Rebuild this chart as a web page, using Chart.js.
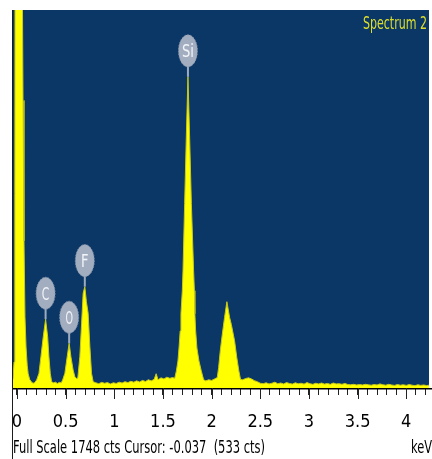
<!DOCTYPE html>
<html><head><meta charset="utf-8">
<script src="https://cdn.jsdelivr.net/npm/chart.js@4.4.1/dist/chart.umd.min.js"></script>
<style>html,body{margin:0;padding:0;background:#fff;overflow:hidden}#wrap{position:relative;width:432px;height:459px}</style>
</head><body><div id="wrap"><canvas id="c" width="432" height="459"></canvas></div>
<script>
// Spectrum data (energy in keV, counts)
const energies = [
-0.041,-0.03,-0.022,-0.018,0.000,0.050,0.056,0.062,0.072,0.082,0.093,0.105,0.115,0.130,0.150,0.165,0.180,
0.202,0.226,0.246,0.270,0.294,0.315,0.328,0.342,0.356,0.375,0.395,0.415,0.435,0.455,
0.469,0.492,0.516,0.536,0.554,0.577,0.595,0.612,0.625,
0.646,0.664,0.680,0.697,0.713,0.731,0.749,0.766,0.783,
0.81,0.84,0.87,0.90,0.93,0.96,0.99,1.02,1.05,1.08,1.11,1.14,1.17,1.20,1.23,1.26,1.29,1.32,1.35,1.38,1.41,1.43,1.45,1.48,1.51,1.54,1.57,1.60,
1.621,1.638,1.654,1.665,1.677,1.685,1.699,1.706,1.723,1.740,1.757,1.774,1.792,1.815,1.823,1.828,1.836,1.849,1.870,1.894,1.918,
1.94,1.97,2.00,2.03,
2.058,2.072,2.089,2.110,2.133,2.157,2.185,2.202,2.236,2.259,2.280,2.297,
2.32,2.35,2.38,2.41,2.44,2.47,2.50,2.53,2.56,2.59,2.62,2.65,2.68,2.71,2.74,2.77,2.80,2.83,2.86,2.89,2.92,2.95,2.98,
3.01,3.04,3.07,3.10,3.13,3.16,3.19,3.22,3.25,3.28,3.31,3.34,3.37,3.40,3.43,3.46,3.49,3.52,3.55,3.58,3.61,3.64,3.67,3.70,
3.73,3.76,3.79,3.82,3.85,3.88,3.91,3.94,3.97,4.00,4.03,4.06,4.09,4.12,4.15,4.18,4.21,4.234
];
const counts = [
40,120,900,3000,9000,2600,1800,1330,680,330,190,105,66,40,27,22,24,
37,68,145,237,318,237,145,68,29,24,27,21,26,24,
37,68,145,207,145,83,52,44,46,
145,299,438,469,400,346,192,68,29,
24,20,26,22,25,19,24,21,27,23,29,25,31,27,33,28,35,30,38,33,40,66,38,47,42,50,45,48,
45,79,125,185,264,343,450,542,853,1160,1439,1160,853,542,450,343,264,185,125,79,38,
33,38,35,42,
48,94,172,249,326,399,326,295,218,140,79,40,
38,44,47,42,34,29,22,20,24,19,22,27,20,23,19,25,21,18,24,20,22,18,25,
20,17,22,19,23,18,21,17,23,19,20,17,21,16,15,17,14,16,14,17,15,13,16,14,
19,15,13,17,14,12,16,13,15,12,16,13,11,15,12,14,11,13
];
const majorTicks = [0,0.5,1,1.5,2,2.5,3,3.5,4];
const peakLabels = ['C','O','F','Si'];
const peakEnergies = [0.294,0.536,0.697,1.757];
const peakCounts = [318,207,469,1439];
const spectrumName = 'Spectrum 2';
const footerText = 'Full Scale 1748 cts Cursor: -0.037  (533 cts)';
const unitLabel = 'keV';
const fullScale = 1748;
const xMin = -0.041, xMax = 4.234;

const points = energies.map((e,i)=>({x:e,y:counts[i]}));
const NARROW = '"Liberation Sans Narrow","Arial Narrow","DejaVu Sans Condensed","Liberation Sans",sans-serif';

function fitText(ctx, text, x, y, width, font, color){
  ctx.save();
  ctx.font = font;
  ctx.fillStyle = color;
  ctx.textBaseline = 'alphabetic';
  ctx.textAlign = 'left';
  const w = ctx.measureText(text).width;
  ctx.translate(x, y);
  ctx.scale(width / w, 1);
  ctx.fillText(text, 0, 0);
  ctx.restore();
}

const edsPlugin = {
  id: 'eds',
  beforeDatasetsDraw(chart){
    const {ctx, chartArea:a} = chart;
    ctx.save();
    ctx.fillStyle = '#0b3767';
    ctx.fillRect(a.left, a.top, a.right - a.left, a.bottom - a.top);
    ctx.restore();
  },
  afterDatasetsDraw(chart){
    const {ctx} = chart;
    const xs = chart.scales.x, ys = chart.scales.y;
    ctx.save();
    peakLabels.forEach((lab,i)=>{
      const px = xs.getPixelForValue(peakEnergies[i]);
      const py = ys.getPixelForValue(peakCounts[i]);
      const cy = py - 26;
      ctx.strokeStyle = '#9eaabd';
      ctx.lineWidth = 2;
      ctx.beginPath(); ctx.moveTo(px, cy + 14); ctx.lineTo(px, py); ctx.stroke();
      ctx.fillStyle = '#a2aec0';
      ctx.beginPath(); ctx.ellipse(px, cy, 9.5, 16, 0, 0, Math.PI*2); ctx.fill();
      ctx.strokeStyle = '#8390a6';
      ctx.lineWidth = 1;
      ctx.setLineDash([1.5,1.5]);
      ctx.stroke();
      ctx.setLineDash([]);
      ctx.font = '18px ' + NARROW;
      const w = ctx.measureText(lab).width;
      const tw = lab.length === 1 ? 7.5 : 12;
      ctx.save();
      ctx.translate(px - tw/2, cy + 6.5);
      ctx.scale(tw / w, 1);
      ctx.fillStyle = '#f2f4f8';
      ctx.fillText(lab, 0, 0);
      ctx.restore();
    });
    ctx.restore();
  },
  afterDraw(chart){
    const {ctx, chartArea:a} = chart;
    const xs = chart.scales.x;
    ctx.save();
    ctx.fillStyle = '#000';
    ctx.fillRect(12, a.bottom, 432 - 12, 1.5);
    ctx.fillStyle = '#1c1c1c';
    ctx.fillRect(12, a.top, 1, 459 - a.top);
    ctx.strokeStyle = '#222';
    ctx.lineWidth = 1;
    majorTicks.forEach(v=>{
      const x = Math.round(xs.getPixelForValue(v)) + 0.5;
      ctx.beginPath(); ctx.moveTo(x, a.bottom); ctx.lineTo(x, a.bottom + 11); ctx.stroke();
    });
    ctx.restore();
    fitText(ctx, spectrumName, 363, 29, 64, '17px ' + NARROW, '#dede2a');
    fitText(ctx, footerText, 13, 453, 252, '18px ' + NARROW, '#000');
    fitText(ctx, unitLabel, 411, 453, 21, '18px ' + NARROW, '#000');
  }
};

new Chart(document.getElementById('c'), {
  type: 'line',
  data: { datasets: [{
    data: points,
    parsing: false,
    fill: 'origin',
    backgroundColor: '#ffff00',
    borderColor: '#c9c918',
    borderWidth: 1,
    pointRadius: 0,
    tension: 0,
    clip: 0
  }]},
  options: {
    responsive: false,
    animation: false,
    devicePixelRatio: 1,
    layout: { padding: { left: 13, right: 3, top: 10, bottom: 0 } },
    plugins: { legend: { display: false }, tooltip: { enabled: false } },
    scales: {
      x: {
        type: 'linear',
        min: xMin, max: xMax,
        afterFit: (s) => { s.height = 71; s.paddingLeft = 0; s.paddingRight = 0; },
        border: { display: false },
        grid: {
          display: true,
          drawOnChartArea: false,
          drawTicks: true,
          tickLength: 7,
          tickWidth: 1,
          color: '#222'
        },
        ticks: {
          stepSize: 0.1,
          includeBounds: false,
          autoSkip: false,
          minRotation: 0,
          maxRotation: 0,
          padding: 17,
          color: '#000',
          font: { family: NARROW, size: 18 },
          callback: (v) => {
            const t = Math.round(v * 10);
            return (t % 5 === 0) ? String(t / 10) : '';
          }
        }
      },
      y: {
        display: false,
        min: 0,
        max: fullScale
      }
    }
  },
  plugins: [edsPlugin]
});
</script>
</body></html>
